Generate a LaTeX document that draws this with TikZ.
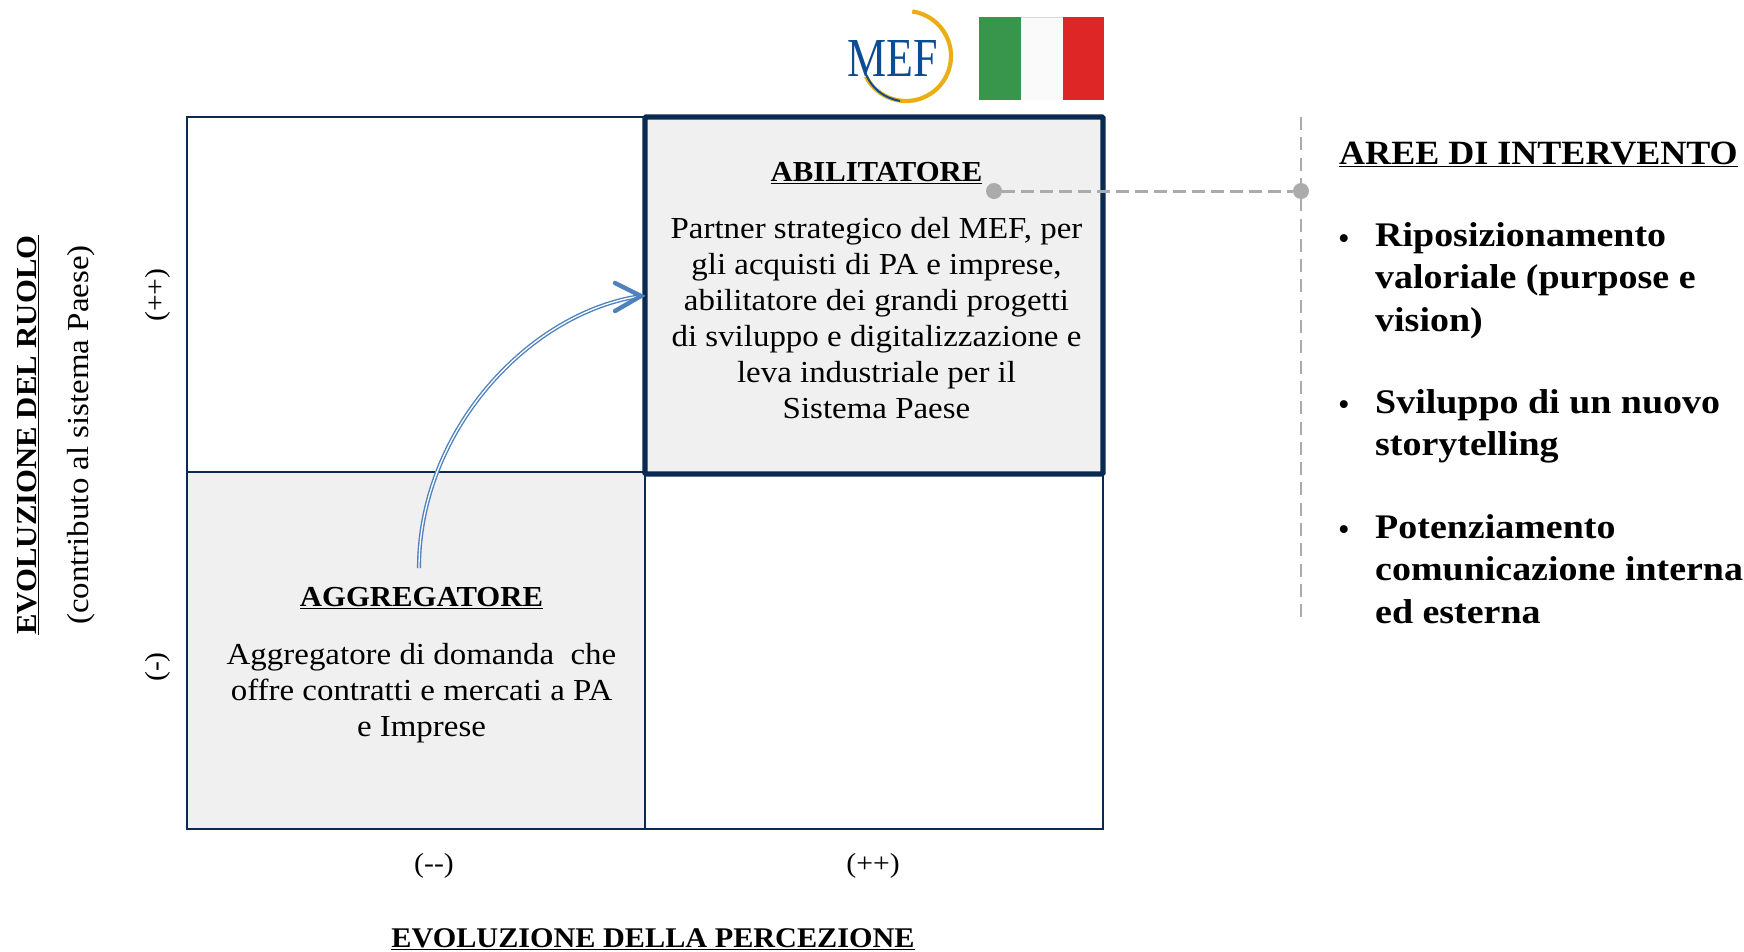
\documentclass[tikz,border=0pt]{standalone}
\usepackage{fontspec}
\setmainfont{Liberation Serif}
\newfontfamily\stretched[FakeStretch=1.06]{Liberation Serif}
\newfontfamily\bodyfont[FakeStretch=1.08]{Liberation Serif}
\newfontfamily\bigfont[FakeStretch=1.10]{Liberation Serif}
\usetikzlibrary{calc}
\definecolor{navy}{HTML}{0B2A52}
\definecolor{panel}{HTML}{F0F0F0}
\definecolor{dotgray}{HTML}{ABABAB}
\definecolor{arrowblue}{HTML}{4F81BD}
\definecolor{mefblue}{HTML}{0B4C92}
\definecolor{mefgold}{HTML}{EAAE14}
\definecolor{flaggreen}{HTML}{37964B}
\definecolor{flagwhite}{HTML}{FAFAFA}
\definecolor{flagred}{HTML}{DE2626}
\tikzset{
  x=1pt,y=-1pt,
  cell/.style={draw=navy,line width=1.6pt},
  lbl/.style={inner sep=0pt,font=\bodyfont\fontsize{30.5}{36}\selectfont,align=center,text=black},
  tick/.style={inner sep=0pt,font=\bodyfont\fontsize{27.5}{36}\selectfont},
  head/.style={inner sep=0pt,font=\stretched\fontsize{29}{36}\selectfont\bfseries,align=center},
  big/.style={inner sep=0pt,font=\bigfont\fontsize{34.5}{42.6}\selectfont\bfseries,align=left,anchor=north west},
  bullet/.style={inner sep=0pt,font=\fontsize{33}{33}\selectfont},
  dot/.style={circle,fill=dotgray,inner sep=0pt,minimum size=16pt},
}
\begin{document}
\begin{tikzpicture}
\useasboundingbox (0,0) rectangle (1744,951);
% grid
\fill[panel] (187,472) rectangle (645,829);
\draw[cell] (187,117) rectangle (1103,829);
\draw[cell] (187,472) -- (645,472);
\draw[cell] (645,472) -- (645,829);
\draw[navy,fill=panel,line width=5.2pt,rounded corners=1pt] (645,117) rectangle (1103,474);
% logo
\draw[mefgold,line width=4.2pt] ($(906,56)+(153:45)$) arc[start angle=153,end angle=-82,radius=45];
\draw[mefblue,line width=2pt] (865,72) .. controls (872,90) and (885,98) .. (900,101);
\node[inner sep=0pt,text=mefblue,font=\fontsize{55}{55}\selectfont,xscale=0.8,transform shape] (mef) at (892.5,58) {MEF};
% flag
\fill[flagwhite] (1021,17) rectangle (1063,100);
\draw[black!15,line width=0.8pt] (1021,17) -- (1063,17);
\fill[flaggreen] (979,17) rectangle (1021,100);
\fill[flagred] (1063,17) rectangle (1104,100);
% ABILITATORE
\node[head] (abtitle) at (876.5,173) {\underline{ABILITATORE}};
\node[lbl,anchor=north] (abtext) at (876.5,217) {Partner strategico del MEF, per\\gli acquisti di PA e imprese,\\abilitatore dei grandi progetti\\di sviluppo e digitalizzazione e\\leva industriale per il\\Sistema Paese};
% AGGREGATORE
\node[head] (agtitle) at (421.5,598) {\underline{AGGREGATORE}};
\node[lbl,anchor=north] (agtext) at (421.5,643) {Aggregatore di domanda\ \ che\\offre contratti e mercati a PA\\e Imprese};
% arrow
\coordinate (as) at (419,568);
\coordinate (ae) at (641,296);
\draw[arrowblue,line width=1.4pt,double=white,double distance=1.3pt] (as) .. controls (419,430) and (530,312) .. (ae);
\draw[arrowblue,line width=4.4pt,line cap=round,line join=miter] (615,283) -- (ae) -- (615,311);
% dashed connector
\node[dot] (d1) at (994,191) {};
\node[dot] (d2) at (1301,191) {};
\coordinate (vt) at (1301,117);
\coordinate (vb) at (1301,617);
\draw[dotgray,line width=1.5pt,dash pattern=on 13pt off 7.3pt] (vt) -- (vb);
\draw[dotgray,line width=3pt,dash pattern=on 13pt off 6pt] (d1) -- (d2);
% right panel
\node[inner sep=0pt,font=\stretched\fontsize{34}{40}\selectfont\bfseries,anchor=west] (aree) at (1339,154) {\underline{AREE DI INTERVENTO}};
\node[big] (b1) at (1375,222) {Riposizionamento\\valoriale (purpose e\\vision)};
\node[big] (b2) at (1375,389) {Sviluppo di un nuovo\\storytelling};
\node[big] (b3) at (1375,514) {Potenziamento\\comunicazione interna\\ed esterna};
\node[bullet] (p1) at (1344,242) {•};
\node[bullet] (p2) at (1344,408) {•};
\node[bullet] (p3) at (1344,533) {•};
% axes
\node[head,rotate=90,font=\stretched\fontsize{29}{36}\selectfont\bfseries] (yt) at (28,435) {\underline{EVOLUZIONE DEL RUOLO}};
\node[lbl,rotate=90] (ys) at (81,435) {(contributo al sistema Paese)};
\node[tick,rotate=90] (ypp) at (158,295) {(++)};
\node[tick,rotate=90] (ym) at (158,667) {(-)};
\node[tick] (xm) at (434,866) {(--)};
\node[tick] (xp) at (873,866) {(++)};
\node[head,font=\stretched\fontsize{28.5}{36}\selectfont\bfseries] (xt) at (653,939) {\underline{EVOLUZIONE DELLA PERCEZIONE}};
\end{tikzpicture}
\end{document}
